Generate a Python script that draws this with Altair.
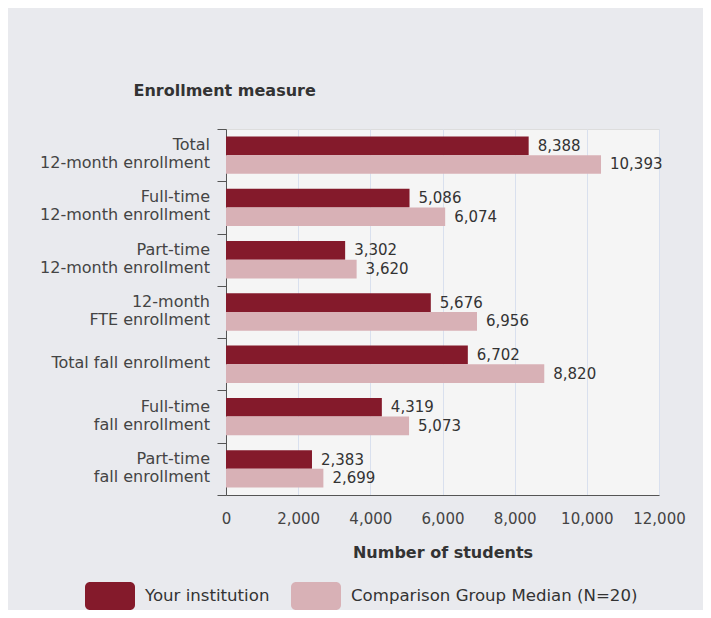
import altair as alt
import pandas as pd

categories = [
    "Total|12-month enrollment",
    "Full-time\u00a0|12-month enrollment",
    "Part-time\u00a0|12-month enrollment",
    "12-month|FTE enrollment",
    "Total fall enrollment",
    "Full-time\u00a0|fall enrollment",
    "Part-time\u00a0|fall enrollment",
]
series = ["Your institution", "Comparison Group Median (N=20)"]
your_values = [8388, 5086, 3302, 5676, 6702, 4319, 2383]
comp_values = [10393, 6074, 3620, 6956, 8820, 5073, 2699]
colors = ["#841A2B", "#D8B1B6"]
x_ticks = [0, 2000, 4000, 6000, 8000, 10000, 12000]

rows = []
for c, a, b in zip(categories, your_values, comp_values):
    rows.append({"cat": c, "series": series[0], "value": a})
    rows.append({"cat": c, "series": series[1], "value": b})
df = pd.DataFrame(rows)
cat_df = pd.DataFrame({"cat": categories})

FONT = "DejaVu Sans"

y_enc = alt.Y(
    "cat:N",
    sort=categories,
    scale=alt.Scale(paddingInner=0, paddingOuter=0),
    axis=alt.Axis(
        title="Enrollment measure",
        titleAngle=0,
        titleAlign="left",
        titleBaseline="middle",
        titleX=-93,
        titleY=-39,
        titleFont=FONT,
        titleFontSize=16,
        titleFontWeight="bold",
        titleColor="#333333",
        labels=False,
        tickBand="extent",
        tickSize=9,
        tickColor="#555555",
        domainColor="#555555",
        grid=False,
    ),
)
yoff_enc = alt.YOffset(
    "series:N", sort=series, scale=alt.Scale(paddingOuter=0.4, paddingInner=0)
)
x_enc = alt.X(
    "value:Q",
    scale=alt.Scale(domain=[0, 12000], nice=False),
    axis=alt.Axis(
        title="Number of students",
        values=x_ticks,
        format=",d",
        labelOverlap=False,
        labelFlush=False,
        tickSize=0,
        labelPadding=16,
        labelFont=FONT,
        labelFontSize=15,
        labelColor="#444444",
        titleFont=FONT,
        titleFontSize=16,
        titleFontWeight="bold",
        titleColor="#333333",
        titleBaseline="middle",
        titleY=57,
        gridColor="#D9E0EE",
        domainColor="#555555",
    ),
)

rect_path = (
    "M-0.8,-0.56 L0.8,-0.56 A0.2,0.2 0 0 1 1,-0.36 L1,0.36 "
    "A0.2,0.2 0 0 1 0.8,0.56 L-0.8,0.56 A0.2,0.2 0 0 1 -1,0.36 "
    "L-1,-0.36 A0.2,0.2 0 0 1 -0.8,-0.56 Z"
)

bars = alt.Chart(df).mark_bar().encode(
    y=y_enc,
    yOffset=yoff_enc,
    x=x_enc,
    color=alt.Color(
        "series:N",
        sort=series,
        scale=alt.Scale(domain=series, range=colors),
        legend=alt.Legend(
            title=None,
            orient="none",
            legendX=-141,
            legendY=442,
            direction="horizontal",
            symbolType=rect_path,
            symbolSize=2500,
            symbolStrokeWidth=0,
            symbolOpacity=1,
            labelFont=FONT,
            labelFontSize=16.6,
            labelColor="#333333",
            labelOffset=10,
            labelLimit=400,
            columnPadding=21,
        ),
    ),
)

labels = alt.Chart(df).mark_text(
    align="left", baseline="middle", dx=9, font=FONT, fontSize=15, color="#333333"
).encode(
    y=alt.Y("cat:N", sort=categories),
    yOffset=alt.YOffset("series:N", sort=series),
    x=alt.X("value:Q"),
    text=alt.Text("value:Q", format=","),
)

cat_label_style = dict(
    align="right",
    baseline="middle",
    dx=-16,
    font=FONT,
    fontSize=16,
    lineHeight=18,
    lineBreak="|",
    color="#444444",
)

cat_two = (
    alt.Chart(cat_df)
    .transform_filter("indexof(datum.cat, '|') >= 0")
    .mark_text(dy=-10, **cat_label_style)
    .encode(y=alt.Y("cat:N", sort=categories), x=alt.X(datum=0), text="cat:N")
)
cat_one = (
    alt.Chart(cat_df)
    .transform_filter("indexof(datum.cat, '|') < 0")
    .mark_text(dy=-1, **cat_label_style)
    .encode(y=alt.Y("cat:N", sort=categories), x=alt.X(datum=0), text="cat:N")
)

chart = (
    alt.layer(bars, labels, cat_two, cat_one)
    .properties(
        width=433,
        height=366,
        autosize=alt.AutoSizeParams(type="none"),
        padding={"left": 218, "top": 121, "right": 44, "bottom": 115},
        background="#E9EAEE",
    )
    .configure_view(fill="#F5F5F5", stroke="#DDDDDD")
)

chart.save("out.html", embed_options={"renderer": "svg", "actions": False})
